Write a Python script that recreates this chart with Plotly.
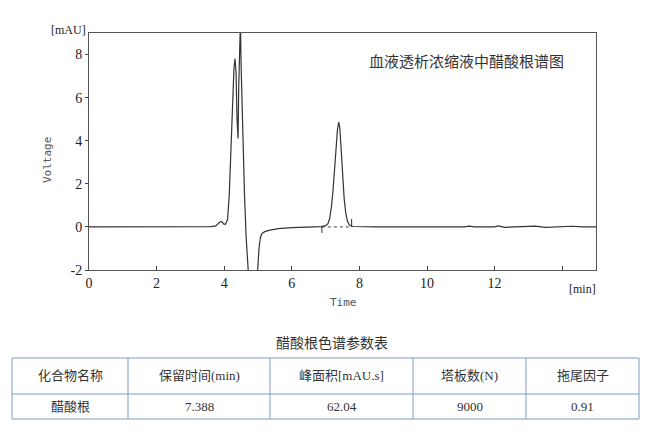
import plotly.graph_objects as go

# ---- chromatogram data (time in min, signal in mAU) ----
time_min = [0.0, 1.0, 2.0, 3.0, 3.6, 3.75, 3.83, 3.88, 3.93, 3.98, 4.04, 4.1, 4.15, 4.2, 4.25,
            4.29, 4.32, 4.35, 4.38, 4.41, 4.43, 4.45, 4.48, 4.5, 4.54, 4.6, 4.65, 4.69,
            4.75, 4.9, 4.99, 5.03, 5.07, 5.12, 5.2, 5.35, 5.6, 6.0, 6.5, 6.88, 7.0, 7.07,
            7.12, 7.17, 7.22, 7.27, 7.31, 7.35, 7.39, 7.42, 7.46, 7.5, 7.55, 7.6, 7.65,
            7.7, 7.8, 8.5, 9.5, 10.5, 11.1, 11.25, 11.4, 12.0, 12.1, 12.3, 13.0, 13.2,
            13.5, 14.0, 14.3, 14.6, 15.0]
signal_mau = [0.0, 0.0, 0.0, 0.0, 0.01, 0.05, 0.15, 0.24, 0.25, 0.14, 0.12, 0.35, 1.5, 3.5, 6.0,
              7.4, 7.8, 7.2, 5.0, 4.1, 6.5, 9.5, 9.5, 7.5, 4.5, 1.5, -0.5, -2.0,
              -3.0, -3.0, -2.0, -1.0, -0.5, -0.3, -0.22, -0.15, -0.08, -0.03, 0.0, 0.01, 0.06, 0.15,
              0.4, 0.9, 1.7, 2.8, 3.8, 4.5, 4.87, 4.6, 3.6, 2.4, 1.3, 0.6, 0.25,
              0.1, 0.02, 0.0, 0.0, 0.0, 0.0, 0.04, 0.0, 0.0, 0.05, -0.02, 0.0, 0.04,
              -0.02, -0.01, 0.03, 0.0, 0.0]

# integration baseline and peak start/end markers
baseline_t = [6.89, 7.77]
baseline_v = [0.0, 0.0]
start_mark_t = [6.89, 6.89]
start_mark_v = [0.05, -0.28]
end_mark_t = [7.77, 7.77]
end_mark_v = [0.0, 0.37]

x_tickvals = [0, 2, 4, 6, 8, 10, 12, 14]
x_ticktext = ["0", "2", "4", "6", "8", "10", "12", ""]
y_tickvals = [-2, 0, 2, 4, 6, 8]
y_ticktext = ["-2", "0", "2", "4", "6", "8"]

chart_title = "血液透析浓缩液中醋酸根谱图"

# ---- parameter table ----
table_title = "醋酸根色谱参数表"
table_headers = ["化合物名称", "保留时间(min)", "峰面积[mAU.s]", "塔板数(N)", "拖尾因子"]
table_values = ["醋酸根", "7.388", "62.04", "9000", "0.91"]

W, H = 657, 445
OFF = 8  # page body margin
L, R, T, B = 89 - OFF, 596 - OFF, 33 - OFF, 270 - OFF  # plot area in figure px


def px_x(px):
    return (px - OFF - L) / (R - L)


def px_y(py):
    return (B - (py - OFF)) / (B - T)


fig = go.Figure()
fig.add_trace(go.Scatter(x=time_min, y=signal_mau, mode="lines",
                         line=dict(color="#333333", width=1.2), showlegend=False))
fig.add_trace(go.Scatter(x=baseline_t, y=baseline_v, mode="lines",
                         line=dict(color="#444444", width=1, dash="dot"), showlegend=False))
fig.add_trace(go.Scatter(x=start_mark_t, y=start_mark_v, mode="lines",
                         line=dict(color="#333333", width=1), showlegend=False))
fig.add_trace(go.Scatter(x=end_mark_t, y=end_mark_v, mode="lines",
                         line=dict(color="#333333", width=1), showlegend=False))

serif = "Liberation Serif, Noto Sans CJK SC, serif"
cjk = "Noto Sans CJK SC, Liberation Serif, serif"

fig.update_layout(
    width=W, height=H,
    margin=dict(l=L, r=W - R, t=T, b=H - B, pad=0),
    paper_bgcolor="white", plot_bgcolor="white",
    font=dict(family=serif, color="#222222"),
    xaxis=dict(range=[0, 15], tickvals=x_tickvals, ticktext=x_ticktext,
               ticks="inside", ticklen=4, tickcolor="#444", showgrid=False, zeroline=False,
               showline=True, linecolor="#555555", linewidth=1, mirror=True,
               tickfont=dict(family=serif, size=14, color="#222")),
    yaxis=dict(range=[-2, 9], tickvals=y_tickvals, ticktext=y_ticktext,
               ticks="outside", ticklen=3, tickcolor="#444", showgrid=False, zeroline=False,
               showline=True, linecolor="#555555", linewidth=1, mirror=True,
               tickfont=dict(family=serif, size=14, color="#222")),
)


def note(xpx, ypx, text, font, angle=0):
    return dict(x=px_x(xpx), y=px_y(ypx), xref="paper", yref="paper", text=text,
                xanchor="center", yanchor="middle", textangle=angle,
                showarrow=False, font=font)


ann = []
ann.append(note(68, 30, "[mAU]", dict(family=serif, size=12, color="#222")))
ann.append(note(582, 289, "[min]", dict(family=serif, size=12, color="#222")))
ann.append(note(47, 160, "Voltage", dict(family="DejaVu Sans Mono, monospace", size=11, color="#555"), -90))
ann.append(note(343, 302, "Time", dict(family="DejaVu Sans Mono, monospace", size=11, color="#4a5566")))
ann.append(note(466, 60, chart_title, dict(family=cjk, size=15, color="#333")))
ann.append(note(332, 342, table_title, dict(family=cjk, size=14, color="#333")))

# table geometry (reference px)
col_edges = [12, 128, 270, 413, 526, 639]
row_edges = [358, 394, 419]
border = "#7f9cc0"
shapes = []
for yy in row_edges:
    shapes.append(dict(type="line", xref="paper", yref="paper",
                       x0=px_x(col_edges[0]), x1=px_x(col_edges[-1]), y0=px_y(yy), y1=px_y(yy),
                       line=dict(color=border, width=1)))
for xx in col_edges:
    shapes.append(dict(type="line", xref="paper", yref="paper",
                       x0=px_x(xx), x1=px_x(xx), y0=px_y(row_edges[0]), y1=px_y(row_edges[-1]),
                       line=dict(color=border, width=1)))

for i in range(len(table_headers)):
    cx = (col_edges[i] + col_edges[i + 1]) / 2
    ann.append(note(cx, (row_edges[0] + row_edges[1]) / 2, table_headers[i],
                    dict(family=serif, size=13, color="#333")))
    ann.append(note(cx, (row_edges[1] + row_edges[2]) / 2, table_values[i],
                    dict(family=serif, size=13, color="#333")))

fig.update_layout(annotations=ann, shapes=shapes)
fig.write_html("out.html")
